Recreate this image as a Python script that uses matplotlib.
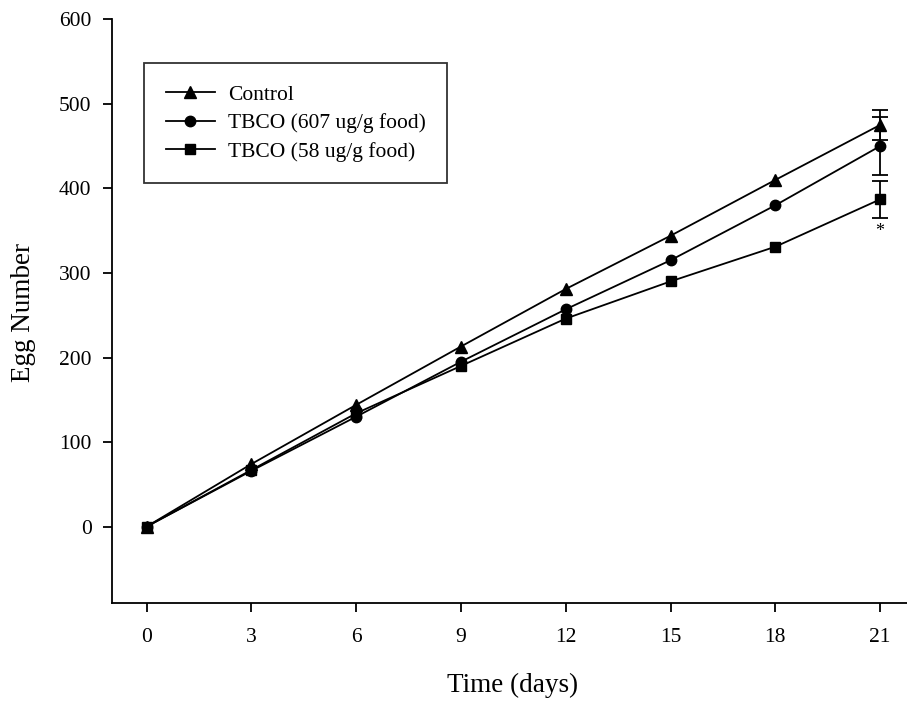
import matplotlib
matplotlib.use("Agg")
import matplotlib.pyplot as plt

plt.rcParams['font.family'] = ['Liberation Serif', 'DejaVu Serif']

days = [0, 3, 6, 9, 12, 15, 18, 21]
control = [0, 74, 144, 213, 281, 344, 410, 475]
tbco_607 = [0, 66, 130, 195, 257, 315, 380, 450]
tbco_58 = [0, 67, 134, 190, 246, 290, 331, 387]

err_day = 21
err_control = 18
err_607 = 34
err_58 = 22
star_y = 349

x_ticks = [0, 3, 6, 9, 12, 15, 18, 21]
y_ticks = [0, 100, 200, 300, 400, 500, 600]

W, H = 907, 701
fig = plt.figure(figsize=(W / 100, H / 100), dpi=100)
ax = fig.add_axes([111.7 / W, 1 - 602.7 / H, (915 - 111.7) / W, (602.7 - 19.3) / H])

lw = 1.3
ax.plot(days, control, '-^', color='black', lw=lw, ms=8, label='Control', clip_on=False)
ax.plot(days, tbco_607, '-o', color='black', lw=lw, ms=7.5, label='TBCO (607 ug/g food)', clip_on=False)
ax.plot(days, tbco_58, '-s', color='black', lw=lw, ms=7, label='TBCO (58 ug/g food)', clip_on=False)

i = days.index(err_day)
for vals, e in [(control, err_control), (tbco_607, err_607), (tbco_58, err_58)]:
    ax.errorbar([err_day], [vals[i]], yerr=[e], fmt='none', ecolor='black',
                elinewidth=lw, capsize=5.5, capthick=lw)

ax.text(err_day, star_y, '*', ha='center', va='center', fontsize=13)

ax.set_xlim(-1, 22)
ax.set_ylim(-90, 600)
ax.set_xticks(x_ticks)
ax.set_yticks(y_ticks)
for s in ['top', 'right']:
    ax.spines[s].set_visible(False)
for s in ['left', 'bottom']:
    ax.spines[s].set_linewidth(1.3)
ax.tick_params(axis='both', direction='out', length=6.5, width=1.3, labelsize=15.5)
ax.tick_params(axis='x', pad=11.5)
ax.tick_params(axis='y', pad=8)

fig.text(513 / W, 1 - 685 / H, 'Time (days)', ha='center', va='center', fontsize=19.5)
fig.text(24 / W, 1 - 312 / H, 'Egg Number', ha='center', va='center', fontsize=19.5, rotation=90)

leg = ax.legend(loc='upper left', bbox_to_anchor=(144 / W, 1 - 63 / H), bbox_transform=fig.transFigure,
                frameon=True, fancybox=False, edgecolor='black', fontsize=15.5, handlelength=2.3,
                handletextpad=0.6, labelspacing=0.4, borderpad=1.0, borderaxespad=0)
leg.get_frame().set_linewidth(1.3)

fig.savefig('out.png', dpi=100)
